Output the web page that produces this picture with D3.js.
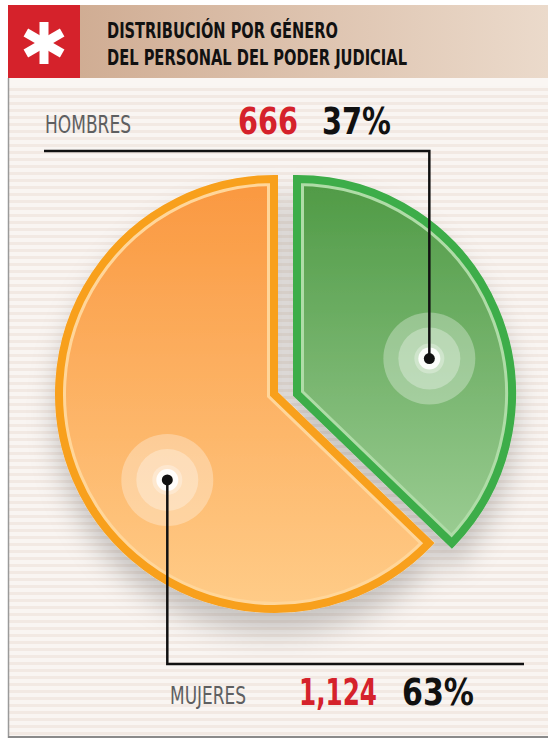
<!DOCTYPE html>
<html>
<head>
<meta charset="utf-8">
<script src="https://cdn.jsdelivr.net/npm/d3@7"></script>
<style>
  body { margin: 0; background: #fff; }
  svg { display: block; }
</style>
</head>
<body>
<svg id="chart" width="548" height="739"></svg>
<script>
// data
let titleLines = ["DISTRIBUCIÓN POR GÉNERO", "DEL PERSONAL DEL PODER JUDICIAL"];
let categories = ["HOMBRES", "MUJERES"];
let values = [666, 1124];
let valueLabels = ["666", "1,124"];
let percentLabels = ["37%", "63%"];

let svg = d3.select("#chart");
let W = +svg.attr("width"), H = +svg.attr("height");
let condensed = "'Liberation Sans Narrow','DejaVu Sans Condensed','Roboto Condensed',Roboto,sans-serif";

let defs = svg.append("defs");

// striped background
let pat = defs.append("pattern").attr("id", "stripes")
  .attr("patternUnits", "userSpaceOnUse").attr("width", 8).attr("height", 7);
pat.append("rect").attr("width", 8).attr("height", 7).attr("fill", "#f9f5f2");
pat.append("rect").attr("y", 4).attr("width", 8).attr("height", 3).attr("fill", "#f2e9e3");

// header gradient
let hg = defs.append("linearGradient").attr("id", "headGrad");
hg.append("stop").attr("offset", "0%").attr("stop-color", "#cca68b");
hg.append("stop").attr("offset", "100%").attr("stop-color", "#ebdacb");

let baseX = 285.5, baseY = 394, explode = 11.5, radius = 215;

// slice gradients (top dark -> bottom light), in slice-local coordinates
let sliceColors = [
  {id: "gGreen", top: "#4f9a45", bottom: "#a9d6a1", stroke: "#3dad49", inner: "#afdca7"},
  {id: "gOrange", top: "#fa9840", bottom: "#ffcc88", stroke: "#f8a01b", inner: "#ffd69a"}
];
sliceColors.forEach(function(c) {
  let g = defs.append("linearGradient").attr("id", c.id)
    .attr("gradientUnits", "userSpaceOnUse")
    .attr("x1", 0).attr("x2", 0).attr("y1", -radius).attr("y2", radius);
  g.append("stop").attr("offset", "0%").attr("stop-color", c.top);
  g.append("stop").attr("offset", "100%").attr("stop-color", c.bottom);
});

let shadow = defs.append("filter").attr("id", "shadow")
  .attr("x", "-20%").attr("y", "-20%").attr("width", "140%").attr("height", "150%");
shadow.append("feDropShadow").attr("dx", 0).attr("dy", 20)
  .attr("stdDeviation", 14).attr("flood-color", "#000").attr("flood-opacity", 0.2);

// panel
svg.append("rect").attr("x", 8).attr("y", 78).attr("width", W - 8).attr("height", 659)
  .attr("fill", "url(#stripes)");
svg.append("rect").attr("x", 8).attr("y", 78).attr("width", W - 8).attr("height", 8)
  .attr("fill", "#faf6f3");
svg.append("line").attr("x1", 8.5).attr("x2", 8.5).attr("y1", 78).attr("y2", 738)
  .attr("stroke", "#9a9a9a").attr("stroke-width", 1.5);
svg.append("line").attr("x1", 8).attr("x2", W).attr("y1", 737).attr("y2", 737)
  .attr("stroke", "#8a8a8a").attr("stroke-width", 2);

// header
svg.append("rect").attr("x", 8).attr("y", 5).attr("width", W - 8).attr("height", 73)
  .attr("fill", "url(#headGrad)");
svg.append("rect").attr("x", 8).attr("y", 5).attr("width", 72).attr("height", 73)
  .attr("fill", "#d5222b");
let star = svg.append("g").attr("transform", "translate(44,43)");
[0, 60, 120].forEach(function(a) {
  star.append("rect").attr("x", -4.5).attr("y", -21).attr("width", 9).attr("height", 42)
    .attr("fill", "#fff").attr("transform", "rotate(" + a + ")");
});
svg.selectAll(".title").data(titleLines).enter().append("text")
  .attr("class", "title")
  .attr("x", 107)
  .attr("y", (d, i) => 38 + i * 27)
  .attr("textLength", (d, i) => i === 0 ? 231 : 300)
  .attr("lengthAdjust", "spacingAndGlyphs")
  .attr("font-family", condensed).attr("font-weight", "bold").attr("font-size", 21)
  .attr("fill", "#111")
  .text(d => d);

// pie
let data = categories.map((c, i) => ({cat: c, value: values[i], label: valueLabels[i], pct: percentLabels[i]}));
let pie = d3.pie().sort(null).value(d => d.value);
let arcs = pie(data);
let arc = d3.arc().innerRadius(0).outerRadius(radius);
let anchorFrac = [0.56, 0.43];
let anchorR = 137;

let pieG = svg.append("g").attr("filter", "url(#shadow)");
arcs.forEach(function(a, i) {
  let mid = (a.startAngle + a.endAngle) / 2;
  let dx = Math.sign(Math.sin(mid)) * explode;
  let cx = baseX + dx, cy = baseY;
  a.cx = cx; a.cy = cy;
  let c = sliceColors[i];
  let g = pieG.append("g").attr("transform", "translate(" + cx + "," + cy + ")");
  defs.append("clipPath").attr("id", "clip" + i).append("path").attr("d", arc(a));
  g.append("path").attr("d", arc(a)).attr("fill", "url(#" + c.id + ")");
  g.append("path").attr("d", arc(a)).attr("fill", "none")
    .attr("stroke", c.inner).attr("stroke-width", 14)
    .attr("stroke-linejoin", "miter").attr("clip-path", "url(#clip" + i + ")");
  g.append("path").attr("d", arc(a)).attr("fill", "none")
    .attr("stroke", c.stroke).attr("stroke-width", 8).attr("stroke-linejoin", "miter");
});

// anchors and leader lines
let labelG = svg.append("g");
arcs.forEach(function(a, i) {
  let ang = a.startAngle + (a.endAngle - a.startAngle) * anchorFrac[i];
  let p = d3.pointRadial(ang, anchorR);
  a.px = a.cx + p[0]; a.py = a.cy + p[1];
  [46, 31, 15].forEach(function(r) {
    labelG.append("circle").attr("cx", a.px).attr("cy", a.py).attr("r", r)
      .attr("fill", "#fff").attr("fill-opacity", 0.3);
  });
  labelG.append("circle").attr("cx", a.px).attr("cy", a.py).attr("r", 11)
    .attr("fill", "#fff").attr("fill-opacity", 0.9);
});

let lineGen = d3.line();
let h = arcs[0], m = arcs[1];
// HOMBRES: up then left; MUJERES: down then right
labelG.append("path")
  .attr("d", lineGen([[h.px, h.py], [h.px, 151], [44, 151]]))
  .attr("fill", "none").attr("stroke", "#111").attr("stroke-width", 2.5);
labelG.append("path")
  .attr("d", lineGen([[m.px, m.py], [m.px, 664], [524, 664]]))
  .attr("fill", "none").attr("stroke", "#111").attr("stroke-width", 2.5);
arcs.forEach(function(a) {
  labelG.append("circle").attr("cx", a.px).attr("cy", a.py).attr("r", 5.5).attr("fill", "#111");
});

// labels
let labelPos = [
  {y: 134, catX: 45, catW: 86, valX: 238, valW: 60, pctX: 322, pctW: 69},
  {y: 705, catX: 170, catW: 76, valX: 299, valW: 78, pctX: 402, pctW: 72}
];
data.forEach(function(d, i) {
  let p = labelPos[i];
  labelG.append("text").attr("x", p.catX).attr("y", p.y - 1)
    .attr("textLength", p.catW).attr("lengthAdjust", "spacingAndGlyphs")
    .attr("font-family", condensed).attr("font-size", 25).attr("fill", "#5e5f61")
    .text(d.cat);
  labelG.append("text").attr("x", p.valX).attr("y", p.y)
    .attr("textLength", p.valW).attr("lengthAdjust", "spacingAndGlyphs")
    .attr("font-family", condensed).attr("font-weight", "bold").attr("font-size", 37)
    .attr("fill", "#d5222b")
    .text(d.label);
  labelG.append("text").attr("x", p.pctX).attr("y", p.y)
    .attr("textLength", p.pctW).attr("lengthAdjust", "spacingAndGlyphs")
    .attr("font-family", condensed).attr("font-weight", "bold").attr("font-size", 38)
    .attr("fill", "#111")
    .text(d.pct);
});
</script>
</body>
</html>
